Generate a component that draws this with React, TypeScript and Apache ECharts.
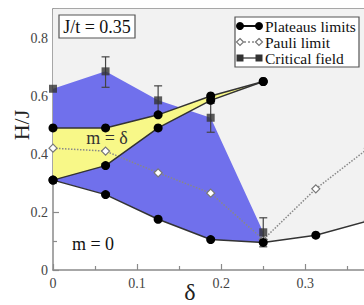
import React, { useEffect, useRef } from "react";
import * as echarts from "echarts";

const deltas = [0, 0.0625, 0.125, 0.1875, 0.25, 0.3125, 0.375];
const plateauUpper = [0.49, 0.49, 0.535, 0.6, 0.65];
const plateauLower = [0.31, 0.36, 0.49, 0.585, 0.65];
const plateauZero = [0.31, 0.26, 0.175, 0.105, 0.095, 0.12, 0.17];
const pauli = [0.42, 0.41, 0.335, 0.265, 0.105, 0.28, 0.42];
const critical = [0.625, 0.685, 0.585, 0.525, 0.13];
const criticalErrLow = [null, 0.63, 0.54, 0.475, 0.08];
const criticalErrHigh = [null, 0.735, 0.635, 0.575, 0.18];
const xTicks = [0, 0.1, 0.2, 0.3];
const yTicks = [0, 0.2, 0.4, 0.6, 0.8];

const FONT = "'Liberation Serif', 'DejaVu Serif', serif";

function pairs(xs: number[], ys: (number | null)[]) {
  return ys.map((y, i) => [xs[i], y]).filter((p) => p[1] !== null) as number[][];
}

function polygonSeries(pts: number[][], fill: string, z: number) {
  return {
    type: "custom",
    z,
    silent: true,
    clip: false,
    data: [[0, 0]],
    renderItem: (_params: any, api: any) => ({
      type: "polygon",
      shape: { points: pts.map((p) => api.coord(p)) },
      style: { fill, stroke: null },
    }),
  };
}

export default function App() {
  const ref = useRef<HTMLDivElement>(null);
  useEffect(() => {
    if (!ref.current) return;
    const chart = echarts.init(ref.current, null, { renderer: "svg" });

    const zeroPts = pairs(deltas, plateauZero);
    const bgPts = [...zeroPts, [0.4, 0.25], [0.4, 0.9], [0, 0.9]];
    const critPts = pairs(deltas, critical);
    const bluePts = [...critPts, ...zeroPts.slice(0, critPts.length).reverse()];
    const upPts = pairs(deltas, plateauUpper);
    const lowPts = pairs(deltas, plateauLower);
    const yellowPts = [...upPts, ...lowPts.slice().reverse()];
    const errData = deltas
      .slice(0, critical.length)
      .map((d, i) => [d, criticalErrLow[i], criticalErrHigh[i]])
      .filter((e) => e[1] !== null);

    const axisCommon = {
      type: "value",
      axisLine: { show: true, lineStyle: { color: "#8a8a8a", width: 1.5 } },
      axisTick: { show: true, inside: true, length: 6, lineStyle: { color: "#8a8a8a", width: 1.2 } },
      minorTick: { show: true, splitNumber: 2, length: 4, lineStyle: { color: "#8a8a8a", width: 1.2 } },
      splitLine: { show: false },
    };

    const plateauLine = (data: number[][]) => ({
      type: "line",
      z: 10,
      data,
      symbol: "circle",
      symbolSize: 9,
      itemStyle: { color: "#000" },
      lineStyle: { color: "#333", width: 1.5 },
      silent: true,
    });

    chart.setOption({
      animation: false,
      grid: { left: 53, top: 9, width: 336.4, height: 261 },
      xAxis: [
        {
          ...axisCommon,
          min: 0,
          max: 0.4,
          interval: 0.1,
          axisLabel: {
            fontFamily: FONT,
            fontSize: 14,
            color: "#444",
            margin: 6,
            showMaxLabel: false,
            formatter: (v: number) => (xTicks.some((t) => Math.abs(t - v) < 1e-9) ? String(+v.toFixed(2)) : ""),
          },
        },
        {
          ...axisCommon,
          position: "top",
          min: 0,
          max: 0.4,
          interval: 0.1,
          axisLabel: { show: false },
        },
      ],
      yAxis: {
        ...axisCommon,
        min: 0,
        max: 0.9,
        interval: 0.2,
        axisLabel: {
          fontFamily: FONT,
          fontSize: 14,
          color: "#444",
          margin: 5,
          showMaxLabel: false,
          formatter: (v: number) => (yTicks.some((t) => Math.abs(t - v) < 1e-9) ? String(+v.toFixed(2)) : ""),
        },
      },
      series: [
        polygonSeries(bgPts, "#f2f2f2", 1),
        polygonSeries(bluePts, "#7070ec", 2),
        polygonSeries(yellowPts, "#f8f888", 3),
        {
          type: "line",
          z: 8,
          data: pairs(deltas, pauli),
          symbol: "diamond",
          symbolSize: 8,
          itemStyle: { color: "#fff", borderColor: "#777", borderWidth: 1.2 },
          lineStyle: { color: "#888", width: 1.5, type: "dotted" },
          silent: true,
        },
        {
          type: "custom",
          z: 9,
          silent: true,
          data: errData,
          renderItem: (_p: any, api: any) => {
            const x = api.value(0);
            const lo = api.coord([x, api.value(1)]);
            const hi = api.coord([x, api.value(2)]);
            const st = { stroke: "#444", lineWidth: 1.2 };
            return {
              type: "group",
              children: [
                { type: "line", shape: { x1: lo[0], y1: lo[1], x2: hi[0], y2: hi[1] }, style: st },
                { type: "line", shape: { x1: hi[0] - 4, y1: hi[1], x2: hi[0] + 4, y2: hi[1] }, style: st },
                { type: "line", shape: { x1: lo[0] - 4, y1: lo[1], x2: lo[0] + 4, y2: lo[1] }, style: st },
              ],
            };
          },
        },
        {
          type: "scatter",
          z: 9,
          data: critPts,
          symbol: "rect",
          symbolSize: 8,
          itemStyle: { color: "#333" },
          silent: true,
        },
        plateauLine(zeroPts),
        plateauLine(lowPts),
        plateauLine(upPts),
      ],
      graphic: [
        // J/t box
        { type: "rect", z: 50, shape: { x: 59, y: 15, width: 76, height: 23 }, style: { fill: "#fff", stroke: "#555", lineWidth: 1.2 } },
        { type: "text", z: 51, x: 97, y: 27, style: { text: "J/t = 0.35", font: `18px ${FONT}`, fill: "#111", align: "center", verticalAlign: "middle" } },
        // region labels
        { type: "text", z: 51, x: 107, y: 138, style: { text: "m = δ", font: `18px ${FONT}`, fill: "#333", align: "center", verticalAlign: "middle" } },
        { type: "text", z: 51, x: 93, y: 244, style: { text: "m = 0", font: `18px ${FONT}`, fill: "#111", align: "center", verticalAlign: "middle" } },
        // axis names
        { type: "text", z: 51, x: 21, y: 125, rotation: Math.PI / 2, style: { text: "H/J", font: `22px ${FONT}`, fill: "#222", align: "center", verticalAlign: "middle" } },
        { type: "text", z: 51, x: 190, y: 292, style: { text: "δ", font: `24px ${FONT}`, fill: "#222", align: "center", verticalAlign: "middle" } },
        // legend
        { type: "rect", z: 50, shape: { x: 235, y: 17, width: 124, height: 50 }, style: { fill: "#fff", stroke: "#555", lineWidth: 1.2 } },
        { type: "line", z: 51, shape: { x1: 240, y1: 26, x2: 259, y2: 26 }, style: { stroke: "#111", lineWidth: 2 } },
        { type: "circle", z: 52, shape: { cx: 240, cy: 26, r: 4 }, style: { fill: "#000" } },
        { type: "circle", z: 52, shape: { cx: 259, cy: 26, r: 4 }, style: { fill: "#000" } },
        { type: "text", z: 51, x: 265, y: 26, style: { text: "Plateaus limits", font: `15.5px ${FONT}`, fill: "#111", verticalAlign: "middle" } },
        { type: "line", z: 51, shape: { x1: 240, y1: 42, x2: 259, y2: 42 }, style: { stroke: "#888", lineWidth: 1.5, lineDash: [2, 2] } },
        { type: "polygon", z: 52, shape: { points: [[240, 38.5], [243.5, 42], [240, 45.5], [236.5, 42]] }, style: { fill: "#fff", stroke: "#777", lineWidth: 1.2 } },
        { type: "polygon", z: 52, shape: { points: [[259, 38.5], [262.5, 42], [259, 45.5], [255.5, 42]] }, style: { fill: "#fff", stroke: "#777", lineWidth: 1.2 } },
        { type: "text", z: 51, x: 265, y: 42, style: { text: "Pauli limit", font: `15.5px ${FONT}`, fill: "#111", verticalAlign: "middle" } },
        { type: "line", z: 51, shape: { x1: 240, y1: 58, x2: 259, y2: 58 }, style: { stroke: "#555", lineWidth: 1.5 } },
        { type: "rect", z: 52, shape: { x: 236.5, y: 54.5, width: 7, height: 7 }, style: { fill: "#333" } },
        { type: "rect", z: 52, shape: { x: 255.5, y: 54.5, width: 7, height: 7 }, style: { fill: "#333" } },
        { type: "text", z: 51, x: 265, y: 58, style: { text: "Critical field", font: `15.5px ${FONT}`, fill: "#111", verticalAlign: "middle" } },
      ],
    });
    return () => chart.dispose();
  }, []);
  return (
    <div style={{ position: "fixed", left: 0, top: 0, width: 364, height: 305, overflow: "hidden", background: "#fff" }}>
      <div ref={ref} style={{ position: "absolute", left: 0, top: 0, width: 400, height: 305 }} />
    </div>
  );
}
